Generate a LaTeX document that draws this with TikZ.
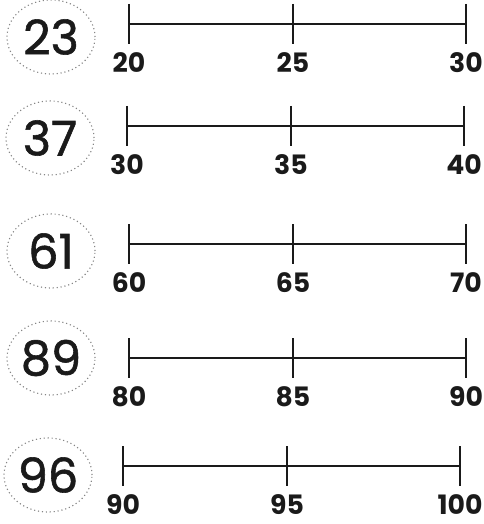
\documentclass[tikz,border=0pt]{standalone}
\usepackage{fontspec}
\setmainfont{Poppins}
\newfontfamily\ringfont[FakeBold=1.2]{Poppins}
\usepackage{tikz}
\usetikzlibrary{positioning,calc,shapes.geometric}
\definecolor{cInk}{HTML}{1A1A1A}
\definecolor{cRing}{HTML}{858585}
\tikzset{
  numring/.style={ellipse,draw=cRing,dotted,line width=0.8pt,minimum width=2.2cm,minimum height=1.85cm,inner sep=0pt,font=\ringfont\fontsize{34}{34}\selectfont,text=cInk},
  numline/.style={draw=cInk,line width=1.3pt},
  tickmark/.style={draw=cInk,line width=1.3pt},
  ticklbl/.style={font=\bfseries\fontsize{19}{19}\selectfont,text=cInk,inner sep=0pt},
}

\begin{document}
\begin{tikzpicture}[x=0.025cm,y=-0.025cm]
  \useasboundingbox (0,0) rectangle (484,524);
  \foreach \r/\num/\lo/\mi/\hi/\ly/\cy/\dx in {1/23/20/25/30/24/37/0,2/37/30/35/40/126/138/-2,3/61/60/65/70/244/251/0,4/89/80/85/90/358/358/0,5/96/90/95/100/466/475/-6}{
    \node[numring] (N\r) at (51+\dx/2,\cy) {\num};
    \coordinate (L\r) at (129+\dx,\ly);
    \coordinate (M\r) at (293+\dx,\ly);
    \coordinate (R\r) at (466+\dx,\ly);
    \draw[numline] (L\r) -- (R\r);
    \foreach \t/\v in {L/\lo,M/\mi,R/\hi}{
      \draw[tickmark] ($(\t\r)+(0,-20)$) -- ($(\t\r)+(0,20)$);
      \node[ticklbl] (T\t\r) at ($(\t\r)+(0,39)$) {\v};
    }
  }
\end{tikzpicture}
\end{document}
